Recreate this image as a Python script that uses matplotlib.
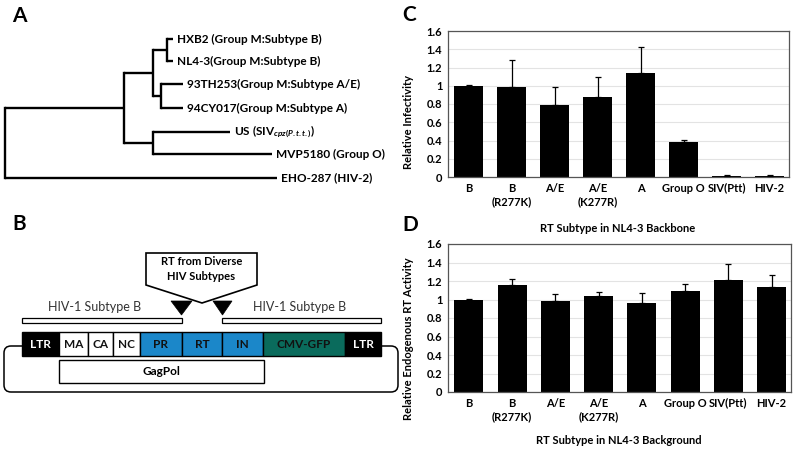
import numpy as np
import matplotlib
matplotlib.use("Agg")
import matplotlib.pyplot as plt
from matplotlib.patches import Rectangle, Polygon, FancyBboxPatch

plt.rcParams['font.family'] = ['Lato', 'DejaVu Sans']
plt.rcParams['mathtext.fontset'] = 'custom'
plt.rcParams['mathtext.rm'] = 'Lato:bold'
plt.rcParams['mathtext.it'] = 'Lato:bold:italic'

# bar chart data (panels C and D)
subtypes = ["B", "B\n(R277K)", "A/E", "A/E\n(K277R)", "A", "Group O", "SIV(Ptt)", "HIV-2"]
infectivity = [1.00, 0.99, 0.79, 0.88, 1.14, 0.38, 0.01, 0.01]
infectivity_err = [0.01, 0.29, 0.20, 0.22, 0.29, 0.03, 0.01, 0.01]
rt_activity = [1.00, 1.16, 0.98, 1.04, 0.96, 1.09, 1.21, 1.13]
rt_activity_err = [0.005, 0.06, 0.08, 0.04, 0.11, 0.08, 0.17, 0.13]
yticks = [0, 0.2, 0.4, 0.6, 0.8, 1, 1.2, 1.4, 1.6]

# tree (panel A): leaf names, tip positions, nested nodes (x, children)
leaf_names = ["HXB2 (Group M:Subtype B)", "NL4-3(Group M:Subtype B)",
              "93TH253(Group M:Subtype A/E)", "94CY017(Group M:Subtype A)",
              r"US (SIV$_{cpz(P.t.t.)}$)", "MVP5180 (Group O)", "EHO-287 (HIV-2)"]
leaf_tip = [173, 173, 183, 183, 230, 272, 277]
leaf_y = [39, 61, 84, 108, 132, 154, 178]
tree = (5, [(124, [(153, [(167, [0, 1]), (161, [2, 3])]), (153, [4, 5])]), 6])

# genome map (panel B)
genome_labels = ["LTR", "MA", "CA", "NC", "PR", "RT", "IN", "CMV-GFP", "LTR"]
genome_edges = [22, 59, 88, 113, 140, 182, 222, 263, 345, 381]
blue = "#1b87c9"
teal = "#0a6b5c"
genome_colors = ["black", "white", "white", "white", blue, blue, blue, teal, "black"]

fig = plt.figure(figsize=(7.96, 4.5), dpi=100)

# overlay in pixel coords for panels A, B and letters
ov = fig.add_axes([0, 0, 1, 1])
ov.set_xlim(0, 796)
ov.set_ylim(450, 0)
ov.axis("off")

lw_tree = 1.7


def draw(node, parent_x):
    if isinstance(node, int):
        y = leaf_y[node]
        ov.plot([parent_x, leaf_tip[node]], [y, y], color="black", lw=lw_tree,
                solid_capstyle="butt")
        ov.text(leaf_tip[node] + 4, y, leaf_names[node], fontsize=8.5,
                fontweight="bold", va="center", ha="left")
        return y
    x, kids = node
    ys = [draw(k, x) for k in kids]
    ov.plot([x, x], [min(ys), max(ys)], color="black", lw=lw_tree,
            solid_capstyle="projecting")
    y = (min(ys) + max(ys)) / 2
    if parent_x is not None:
        ov.plot([parent_x, x], [y, y], color="black", lw=lw_tree,
                solid_capstyle="butt")
    return y


draw(tree, None)

# panel B
ov.add_patch(FancyBboxPatch((4, 346), 394, 46,
                            boxstyle="round,pad=0,rounding_size=7",
                            fc="none", ec="black", lw=1.1, zorder=1))
for i, lab in enumerate(genome_labels):
    x0, x1 = genome_edges[i], genome_edges[i + 1]
    ov.add_patch(Rectangle((x0, 332), x1 - x0, 24, fc=genome_colors[i],
                           ec="black", lw=1, zorder=2))
    tc = "white" if genome_colors[i] == "black" else "#111111"
    ov.text((x0 + x1) / 2, 344.5, lab, color=tc, fontsize=8.5,
            fontweight="bold", ha="center", va="center", zorder=3)

ov.add_patch(Rectangle((59, 360), 205, 23, fc="white", ec="black", lw=1, zorder=2))
ov.text(161.5, 371.5, "GagPol", fontsize=8.5, fontweight="bold",
        ha="center", va="center", zorder=3)

ov.add_patch(Rectangle((22, 318), 160, 5, fc="white", ec="black", lw=0.9))
ov.add_patch(Rectangle((222, 318), 159, 5, fc="white", ec="black", lw=0.9))
ov.text(95, 307, "HIV-1 Subtype B", fontsize=9, color="#333333",
        ha="center", va="center")
ov.text(300, 307, "HIV-1 Subtype B", fontsize=9, color="#333333",
        ha="center", va="center")

ov.add_patch(Polygon([(171, 301), (192, 301), (181.5, 315)], closed=True,
                     fc="black", ec="black", lw=0.5))
ov.add_patch(Polygon([(213, 301), (232, 301), (222.5, 315)], closed=True,
                     fc="black", ec="black", lw=0.5))
ov.add_patch(Polygon([(146, 253), (257, 253), (257, 285), (202, 303), (146, 285)],
                     closed=True, fc="white", ec="black", lw=1.2))
ov.text(201.5, 269, "RT from Diverse\nHIV Subtypes", fontsize=8,
        fontweight="bold", ha="center", va="center", linespacing=1.35)

# panel letters
for letter, x, y in [("A", 12, 16), ("B", 12, 224), ("C", 402, 15), ("D", 402, 225)]:
    ov.text(x, y, letter, fontsize=15, fontweight="bold", ha="left", va="center")


def bar_panel(rect, values, errs, ylabel, label_y):
    ax = fig.add_axes(rect)
    x = np.arange(len(subtypes))
    ax.bar(x, values, width=0.67, color="black", zorder=2)
    ax.errorbar(x, values, yerr=[np.zeros(len(errs)), errs], fmt="none",
                ecolor="black", elinewidth=0.9, capsize=2, capthick=0.9, zorder=3)
    ax.set_xlim(-0.48, 7.45)
    ax.set_ylim(0, 1.6)
    ax.set_yticks(yticks)
    ax.set_yticklabels([f"{t:g}" for t in yticks], fontsize=8, fontweight="bold")
    ax.set_xticks(x)
    ax.set_xticklabels(subtypes, fontsize=8, fontweight="bold", linespacing=1.3)
    ax.tick_params(length=0, pad=4)
    ax.grid(axis="y", color="#e3e3e3", lw=0.8, zorder=0)
    for s in ax.spines.values():
        s.set_color("#555555")
        s.set_linewidth(0.9)
    ax.set_ylabel(ylabel, fontsize=8, fontweight="bold", va="center")
    ax.yaxis.set_label_coords(-40 / (rect[2] * 796), label_y)
    return ax


bar_panel([448 / 796, 1 - 177 / 450, 341 / 796, 146 / 450], infectivity,
          infectivity_err, "Relative Infectivity", 0.38)
bar_panel([448 / 796, 1 - 392 / 450, 343 / 796, 148 / 450], rt_activity,
          rt_activity_err, "Relative Endogenous RT Activity", 0.36)

ov.text(618, 228, "RT Subtype in NL4-3 Backbone", fontsize=8, fontweight="bold",
        ha="center", va="center")
ov.text(619, 440, "RT Subtype in NL4-3 Background", fontsize=8, fontweight="bold",
        ha="center", va="center")

fig.savefig("out.png", dpi=100)
